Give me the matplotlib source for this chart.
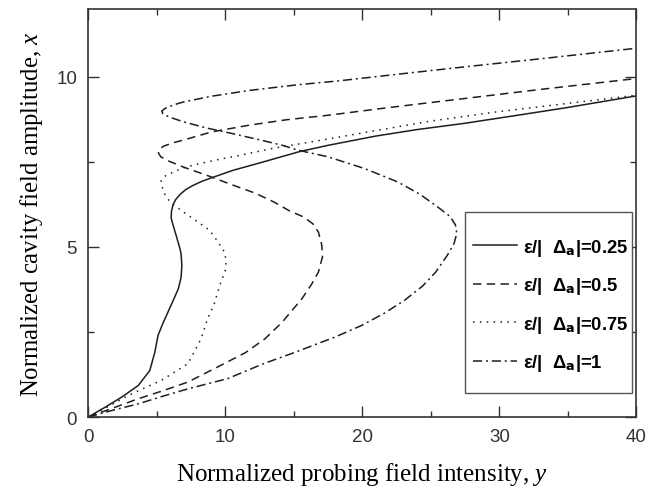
import matplotlib
matplotlib.use('Agg')
import matplotlib.pyplot as plt
from matplotlib.ticker import MultipleLocator
from matplotlib.patches import Rectangle

# curves: probing intensity y (horizontal) vs cavity amplitude x (vertical)
# eps/|Delta_a| = 0.25
y_025 = [0, 1.2, 2.46, 3.66, 4.5, 4.87, 5.1, 5.45, 5.83, 6.2, 6.58, 6.78, 6.84, 6.78, 6.7, 6.45, 6.2,
         6.06, 6.08, 6.2, 6.4, 6.7, 7.1, 7.66, 8.3, 8.99, 10.55, 12.96, 15.4, 17.54, 21.0, 24.0,
         27.4, 31.0, 35.0, 40.0]
x_025 = [0, 0.28, 0.59, 0.93, 1.37, 1.91, 2.4, 2.75, 3.09, 3.42, 3.77, 4.1, 4.45, 4.8, 4.95, 5.3, 5.64,
         5.85, 6.05, 6.25, 6.4, 6.54, 6.68, 6.81, 6.93, 7.03, 7.25, 7.52, 7.8, 7.99, 8.26, 8.45,
         8.63, 8.85, 9.1, 9.44]

# eps/|Delta_a| = 0.5
y_05 = [0, 1.5, 3.66, 5.5, 7.28, 9.68, 11.5, 12.9, 14.16, 15.6, 16.3, 16.8, 17.1, 17.05, 16.8, 16.4,
        15.73, 14.65, 13.56, 12.2, 10.55, 8.7, 6.94, 5.9, 5.3, 5.13, 5.2, 5.5, 6.1, 6.94, 9.0, 11.76,
        14.5, 17.5, 22.0, 27.4, 33.0, 40.0]
x_05 = [0, 0.22, 0.54, 0.78, 1.03, 1.52, 1.9, 2.3, 2.79, 3.48, 3.9, 4.26, 4.71, 5.05, 5.44, 5.68,
        5.88, 6.07, 6.32, 6.58, 6.82, 7.1, 7.35, 7.52, 7.65, 7.76, 7.87, 7.96, 8.05, 8.14, 8.38,
        8.58, 8.74, 8.87, 9.1, 9.36, 9.63, 9.95]

# eps/|Delta_a| = 0.75
y_075 = [0, 1.2, 2.94, 5.35, 7.28, 8.24, 8.72, 9.2, 9.6, 10.0, 10.07, 9.95, 9.71, 9.3, 8.87, 7.66,
         6.94, 5.98, 5.6, 5.37, 5.33, 5.6, 6.21, 7.0, 8.14, 9.5, 11.03, 13.5, 17.05, 20.7, 25.0,
         29.8, 34.6, 40.0]
x_075 = [0, 0.25, 0.64, 1.08, 1.57, 2.3, 2.89, 3.33, 3.87, 4.3, 4.6, 4.85, 5.0, 5.25, 5.49, 5.83,
         6.03, 6.32, 6.55, 6.8, 6.95, 7.08, 7.2, 7.33, 7.45, 7.57, 7.69, 7.9, 8.14, 8.4, 8.7,
         8.97, 9.2, 9.46]

# eps/|Delta_a| = 1
y_1 = [0, 1.5, 3.66, 5.5, 7.28, 10.17, 12.8, 15.0, 18.0, 19.94, 21.6, 23.08, 24.4, 25.36, 26.2, 26.7,
       26.9, 26.8, 26.4, 25.36, 24.2, 22.6, 20.2, 17.5, 15.36, 14.16, 12.5, 10.55, 8.6, 6.94, 5.9,
       5.45, 5.37, 5.6, 6.2, 6.94, 9.0, 11.76, 15.36, 18.26, 22.0, 27.4, 33.0, 40.0]
x_1 = [0, 0.17, 0.39, 0.62, 0.83, 1.13, 1.57, 1.89, 2.35, 2.69, 3.05, 3.43, 3.85, 4.26, 4.75, 5.1,
       5.4, 5.65, 5.9, 6.22, 6.55, 6.91, 7.3, 7.65, 7.84, 7.99, 8.15, 8.33, 8.5, 8.68, 8.82,
       8.92, 8.99, 9.07, 9.17, 9.26, 9.43, 9.6, 9.77, 9.88, 10.05, 10.29, 10.53, 10.84]

ratios = ['0.25', '0.5', '0.75', '1']

plt.rcParams['mathtext.fontset'] = 'custom'
plt.rcParams['mathtext.rm'] = 'Liberation Sans Narrow:bold'
plt.rcParams['mathtext.it'] = 'Liberation Serif:italic'

fig = plt.figure(figsize=(6.48, 4.89), dpi=100)
ax = fig.add_axes([0.136, 0.145, 0.846, 0.835])

col = '#1e1e1e'
styles = ['-', (0, (5.5, 3.5)), (0, (1, 3.5)), (0, (6, 2.5, 1.3, 2.5))]
curves = [(y_025, x_025), (y_05, x_05), (y_075, x_075), (y_1, x_1)]
for (yy, xx), ls, r in zip(curves, styles, ratios):
    ax.plot(yy, xx, color=col, lw=1.1, linestyle=ls,
            label='ε/|  Δ$_{\\mathrm{a}}$|=' + r)

ax.set_xlim(0, 40)
ax.set_ylim(0, 12)
ax.xaxis.set_major_locator(MultipleLocator(10))
ax.xaxis.set_minor_locator(MultipleLocator(5))
ax.yaxis.set_major_locator(MultipleLocator(5))
ax.yaxis.set_minor_locator(MultipleLocator(2.5))
ax.tick_params(which='both', direction='in', top=True, right=True, color='#333333', width=1.0)
ax.tick_params(which='major', length=8, labelsize=13.5, labelcolor='#333333', pad=8)
ax.tick_params(which='minor', length=4)
for lab in ax.get_xticklabels() + ax.get_yticklabels():
    lab.set_family('Liberation Sans')
for s in ax.spines.values():
    s.set_color('#333333')
    s.set_linewidth(1.2)

ax.set_xlabel('Normalized probing field intensity, $y$', family='Liberation Serif',
              fontsize=18, labelpad=11)
ax.set_ylabel('Normalized cavity field amplitude, $x$', family='Liberation Serif',
              fontsize=17.8, labelpad=8)

# legend box drawn separately so the entries can sit lower inside it
ax.add_patch(Rectangle((0.688, 0.06), 0.304, 0.442, transform=ax.transAxes, fill=True,
                       facecolor='white', edgecolor='#555555', lw=1.0, zorder=4))
leg = ax.legend(loc='upper left', bbox_to_anchor=(0.688, 0.46), frameon=False,
                handlelength=2.4, handletextpad=0.3, labelspacing=0.95, borderpad=0.4,
                borderaxespad=0,
                prop={'family': ['Liberation Sans Narrow', 'Liberation Sans'], 'weight': 'bold',
                      'size': 13.3})
leg.set_zorder(5)

fig.savefig('out.png', dpi=100)
